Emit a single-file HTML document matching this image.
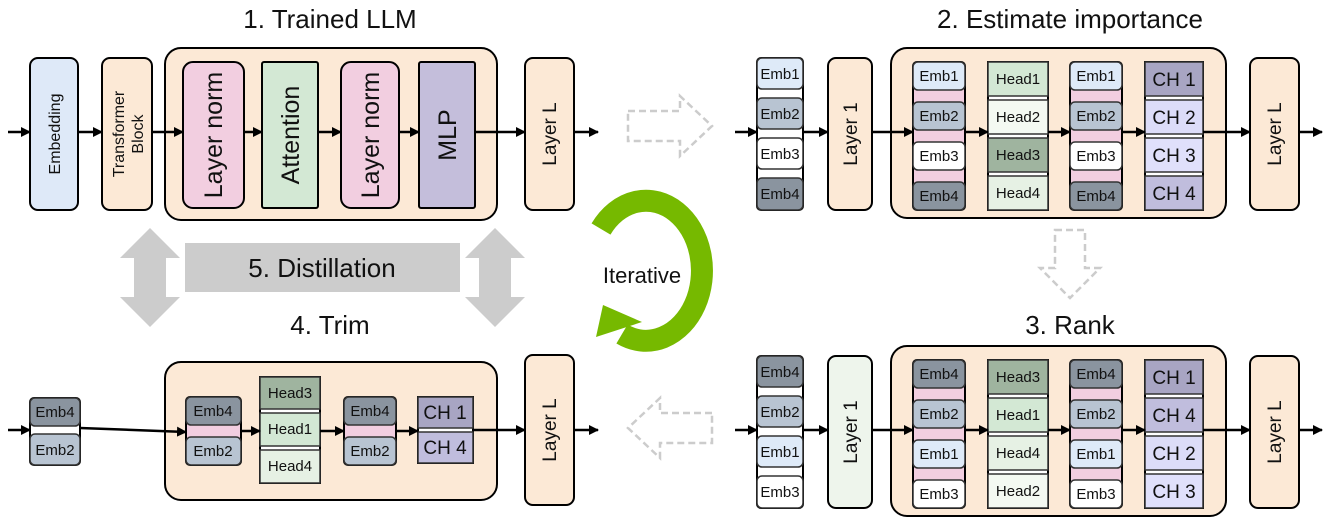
<!DOCTYPE html>
<html><head><meta charset="utf-8"><style>
body{margin:0;background:#fff}
svg{display:block}
text{font-family:"Liberation Sans",sans-serif;fill:#111}
.t{font-size:26px;text-anchor:middle}
.e{font-size:15px;text-anchor:middle}
.h{font-size:15px;text-anchor:middle}
.c{font-size:19px;text-anchor:middle}
</style></head><body>
<svg width="1329" height="529" viewBox="0 0 1329 529" xmlns="http://www.w3.org/2000/svg">
<defs><marker id="a" markerWidth="10" markerHeight="10" refX="9" refY="5" orient="auto" markerUnits="userSpaceOnUse"><path d="M0,0L10,5L0,10z" fill="#000"/></marker></defs>

<text class="t" x="330" y="28">1. Trained LLM</text>
<text class="t" x="1070" y="28">2. Estimate importance</text>
<text class="t" x="1070" y="334">3. Rank</text>
<text class="t" x="330" y="334">4. Trim</text>

<!-- Panel 1 -->
<g stroke="#000" stroke-width="2">
<rect x="30" y="58" width="48" height="152" rx="8" fill="#dee9f8"/>
<rect x="102" y="58" width="50" height="152" rx="8" fill="#fce9d6"/>
<rect x="165" y="48" width="332" height="172" rx="16" fill="#fce9d6"/>
<rect x="183" y="62" width="61" height="146" rx="10" fill="#f2cee0"/>
<rect x="262" y="62" width="56" height="146" rx="2" fill="#d3e8d4"/>
<rect x="341" y="62" width="58" height="146" rx="10" fill="#f2cee0"/>
<rect x="419" y="62" width="56" height="146" rx="2" fill="#c4bedb"/>
<rect x="525" y="58" width="49" height="152" rx="8" fill="#fce9d6"/>
</g>
<g stroke="#000" stroke-width="2.5" marker-end="url(#a)">
<line x1="8" y1="132" x2="30" y2="132"/><line x1="78" y1="132" x2="102" y2="132"/><line x1="152" y1="132" x2="183" y2="132"/><line x1="244" y1="132" x2="262" y2="132"/><line x1="318" y1="132" x2="341" y2="132"/><line x1="399" y1="132" x2="419" y2="132"/><line x1="475" y1="132" x2="525" y2="132"/><line x1="574" y1="132" x2="598" y2="132"/>
</g>
<text transform="translate(60,134) rotate(-90)" style="font-size:16px;text-anchor:middle">Embedding</text>
<text transform="translate(124,134) rotate(-90)" style="font-size:16px;text-anchor:middle">Transformer</text>
<text transform="translate(143,134) rotate(-90)" style="font-size:16px;text-anchor:middle">Block</text>
<text transform="translate(222,135) rotate(-90)" style="font-size:25px;text-anchor:middle">Layer norm</text>
<text transform="translate(299,135) rotate(-90)" style="font-size:25px;text-anchor:middle">Attention</text>
<text transform="translate(379,135) rotate(-90)" style="font-size:25px;text-anchor:middle">Layer norm</text>
<text transform="translate(456,135) rotate(-90)" style="font-size:25px;text-anchor:middle">MLP</text>
<text transform="translate(556,134) rotate(-90)" style="font-size:19px;text-anchor:middle">Layer L</text>

<!-- Panel 2 -->
<g>
<g stroke="#000" stroke-width="2">
<rect x="891" y="48" width="335" height="170" rx="16" fill="#fce9d6"/>
<rect x="828" y="58" width="44" height="152" rx="8" fill="#fce9d6"/>
<rect x="1250" y="58" width="49" height="152" rx="8" fill="#fce9d6"/>
<rect x="757" y="58" width="46" height="152" rx="4" fill="#fff"/>
<rect x="913" y="62" width="52" height="148" rx="4" fill="#f2cee0"/>
<rect x="1070" y="62" width="52" height="148" rx="4" fill="#f2cee0"/>
<rect x="988" y="62" width="60" height="148" fill="#fff"/>
<rect x="1145" y="62" width="58" height="148" fill="#fff"/>
</g>
<g stroke="#333" stroke-width="1.5">
<rect x="757" y="58" width="46" height="31" rx="5" fill="#deeaf8"/>
<rect x="757" y="98" width="46" height="31" rx="5" fill="#b8c4d2"/>
<rect x="757" y="138" width="46" height="31" rx="5" fill="#fff"/>
<rect x="757" y="178" width="46" height="32" rx="5" fill="#8a949f"/>
<rect x="913" y="62" width="52" height="28" rx="5" fill="#deeaf8"/>
<rect x="913" y="102" width="52" height="28" rx="5" fill="#b8c4d2"/>
<rect x="913" y="142" width="52" height="28" rx="5" fill="#fff"/>
<rect x="913" y="182" width="52" height="28" rx="5" fill="#8a949f"/>
<rect x="1070" y="62" width="52" height="28" rx="5" fill="#deeaf8"/>
<rect x="1070" y="102" width="52" height="28" rx="5" fill="#b8c4d2"/>
<rect x="1070" y="142" width="52" height="28" rx="5" fill="#fff"/>
<rect x="1070" y="182" width="52" height="28" rx="5" fill="#8a949f"/>
<rect x="988" y="62" width="60" height="34" fill="#d3e8d4"/>
<rect x="988" y="100" width="60" height="34" fill="#f4f9f2"/>
<rect x="988" y="138" width="60" height="34" fill="#9fb49f"/>
<rect x="988" y="176" width="60" height="34" fill="#e6f1e4"/>
<rect x="1145" y="62" width="58" height="34" fill="#a8a5c3"/>
<rect x="1145" y="100" width="58" height="34" fill="#dcdcf8"/>
<rect x="1145" y="138" width="58" height="34" fill="#e0e0fb"/>
<rect x="1145" y="176" width="58" height="34" fill="#c0bddd"/>
</g>
<g stroke="#000" stroke-width="2.5" marker-end="url(#a)">
<line x1="735" y1="132" x2="757" y2="132"/><line x1="803" y1="132" x2="828" y2="132"/><line x1="872" y1="132" x2="913" y2="132"/><line x1="965" y1="132" x2="988" y2="132"/><line x1="1048" y1="132" x2="1070" y2="132"/><line x1="1122" y1="132" x2="1145" y2="132"/><line x1="1203" y1="132" x2="1250" y2="132"/><line x1="1299" y1="132" x2="1322" y2="132"/>
</g>
<text class="e" x="780" y="79">Emb1</text><text class="e" x="780" y="119">Emb2</text><text class="e" x="780" y="159">Emb3</text><text class="e" x="780" y="199">Emb4</text>
<text class="e" x="939" y="81">Emb1</text><text class="e" x="939" y="121">Emb2</text><text class="e" x="939" y="161">Emb3</text><text class="e" x="939" y="201">Emb4</text>
<text class="e" x="1096" y="81">Emb1</text><text class="e" x="1096" y="121">Emb2</text><text class="e" x="1096" y="161">Emb3</text><text class="e" x="1096" y="201">Emb4</text>
<text class="h" x="1018" y="84">Head1</text><text class="h" x="1018" y="122">Head2</text><text class="h" x="1018" y="160">Head3</text><text class="h" x="1018" y="198">Head4</text>
<text class="c" x="1174" y="86">CH 1</text><text class="c" x="1174" y="124">CH 2</text><text class="c" x="1174" y="162">CH 3</text><text class="c" x="1174" y="200">CH 4</text>
<text transform="translate(857,134) rotate(-90)" style="font-size:19px;text-anchor:middle">Layer 1</text>
<text transform="translate(1281,134) rotate(-90)" style="font-size:19px;text-anchor:middle">Layer L</text>
</g>

<!-- Panel 3 -->
<g transform="translate(0,298)">
<g stroke="#000" stroke-width="2">
<rect x="891" y="48" width="335" height="170" rx="16" fill="#fce9d6"/>
<rect x="828" y="58" width="44" height="152" rx="8" fill="#eef5ec"/>
<rect x="1250" y="58" width="49" height="152" rx="8" fill="#fce9d6"/>
<rect x="757" y="58" width="46" height="152" rx="4" fill="#fff"/>
<rect x="913" y="62" width="52" height="148" rx="4" fill="#f2cee0"/>
<rect x="1070" y="62" width="52" height="148" rx="4" fill="#f2cee0"/>
<rect x="988" y="62" width="60" height="148" fill="#fff"/>
<rect x="1145" y="62" width="58" height="148" fill="#fff"/>
</g>
<g stroke="#333" stroke-width="1.5">
<rect x="757" y="58" width="46" height="31" rx="5" fill="#8a949f"/>
<rect x="757" y="98" width="46" height="31" rx="5" fill="#b8c4d2"/>
<rect x="757" y="138" width="46" height="31" rx="5" fill="#deeaf8"/>
<rect x="757" y="178" width="46" height="32" rx="5" fill="#fff"/>
<rect x="913" y="62" width="52" height="28" rx="5" fill="#8a949f"/>
<rect x="913" y="102" width="52" height="28" rx="5" fill="#b8c4d2"/>
<rect x="913" y="142" width="52" height="28" rx="5" fill="#deeaf8"/>
<rect x="913" y="182" width="52" height="28" rx="5" fill="#fff"/>
<rect x="1070" y="62" width="52" height="28" rx="5" fill="#8a949f"/>
<rect x="1070" y="102" width="52" height="28" rx="5" fill="#b8c4d2"/>
<rect x="1070" y="142" width="52" height="28" rx="5" fill="#deeaf8"/>
<rect x="1070" y="182" width="52" height="28" rx="5" fill="#fff"/>
<rect x="988" y="62" width="60" height="34" fill="#9fb49f"/>
<rect x="988" y="100" width="60" height="34" fill="#d3e8d4"/>
<rect x="988" y="138" width="60" height="34" fill="#e6f1e4"/>
<rect x="988" y="176" width="60" height="34" fill="#f4f9f2"/>
<rect x="1145" y="62" width="58" height="34" fill="#a8a5c3"/>
<rect x="1145" y="100" width="58" height="34" fill="#c0bddd"/>
<rect x="1145" y="138" width="58" height="34" fill="#dcdcf8"/>
<rect x="1145" y="176" width="58" height="34" fill="#e0e0fb"/>
</g>
<g stroke="#000" stroke-width="2.5" marker-end="url(#a)">
<line x1="735" y1="132" x2="757" y2="132"/><line x1="803" y1="132" x2="828" y2="132"/><line x1="872" y1="132" x2="913" y2="132"/><line x1="965" y1="132" x2="988" y2="132"/><line x1="1048" y1="132" x2="1070" y2="132"/><line x1="1122" y1="132" x2="1145" y2="132"/><line x1="1203" y1="132" x2="1250" y2="132"/><line x1="1299" y1="132" x2="1322" y2="132"/>
</g>
<text class="e" x="780" y="79">Emb4</text><text class="e" x="780" y="119">Emb2</text><text class="e" x="780" y="159">Emb1</text><text class="e" x="780" y="199">Emb3</text>
<text class="e" x="939" y="81">Emb4</text><text class="e" x="939" y="121">Emb2</text><text class="e" x="939" y="161">Emb1</text><text class="e" x="939" y="201">Emb3</text>
<text class="e" x="1096" y="81">Emb4</text><text class="e" x="1096" y="121">Emb2</text><text class="e" x="1096" y="161">Emb1</text><text class="e" x="1096" y="201">Emb3</text>
<text class="h" x="1018" y="84">Head3</text><text class="h" x="1018" y="122">Head1</text><text class="h" x="1018" y="160">Head4</text><text class="h" x="1018" y="198">Head2</text>
<text class="c" x="1174" y="86">CH 1</text><text class="c" x="1174" y="124">CH 4</text><text class="c" x="1174" y="162">CH 2</text><text class="c" x="1174" y="200">CH 3</text>
<text transform="translate(857,134) rotate(-90)" style="font-size:19px;text-anchor:middle">Layer 1</text>
<text transform="translate(1281,134) rotate(-90)" style="font-size:19px;text-anchor:middle">Layer L</text>
</g>

<!-- Panel 4 -->
<g stroke="#000" stroke-width="2">
<rect x="165" y="362" width="332" height="138" rx="16" fill="#fce9d6"/>
<rect x="525" y="355" width="49" height="150" rx="8" fill="#fce9d6"/>
<rect x="30" y="398" width="50" height="67" rx="4" fill="#fff"/>
<rect x="186" y="397" width="55" height="68" rx="4" fill="#f2cee0"/>
<rect x="344" y="397" width="52" height="68" rx="4" fill="#f2cee0"/>
<rect x="260" y="377" width="60" height="106" fill="#fff"/>
<rect x="418" y="397" width="55" height="66" fill="#fff"/>
</g>
<g stroke="#333" stroke-width="1.5">
<rect x="30" y="398" width="50" height="28" rx="5" fill="#8a949f"/>
<rect x="30" y="434" width="50" height="31" rx="5" fill="#b8c4d2"/>
<rect x="186" y="397" width="55" height="28" rx="5" fill="#8a949f"/>
<rect x="186" y="437" width="55" height="28" rx="5" fill="#b8c4d2"/>
<rect x="344" y="397" width="52" height="28" rx="5" fill="#8a949f"/>
<rect x="344" y="437" width="52" height="28" rx="5" fill="#b8c4d2"/>
<rect x="260" y="377" width="60" height="32" fill="#9fb49f"/>
<rect x="260" y="413" width="60" height="33" fill="#d3e8d4"/>
<rect x="260" y="450" width="60" height="33" fill="#e6f1e4"/>
<rect x="418" y="397" width="55" height="31" fill="#a8a5c3"/>
<rect x="418" y="432" width="55" height="31" fill="#c0bddd"/>
</g>
<g stroke="#000" stroke-width="2.5" marker-end="url(#a)">
<line x1="8" y1="430" x2="30" y2="430"/><line x1="80" y1="428" x2="186" y2="432"/><line x1="241" y1="431" x2="260" y2="431"/><line x1="320" y1="431" x2="344" y2="431"/><line x1="396" y1="431" x2="418" y2="431"/><line x1="473" y1="430" x2="525" y2="430"/><line x1="574" y1="430" x2="598" y2="430"/>
</g>
<text class="e" x="55" y="417">Emb4</text><text class="e" x="55" y="455">Emb2</text>
<text class="e" x="213" y="416">Emb4</text><text class="e" x="213" y="456">Emb2</text>
<text class="e" x="370" y="416">Emb4</text><text class="e" x="370" y="456">Emb2</text>
<text class="h" x="290" y="398">Head3</text><text class="h" x="290" y="434">Head1</text><text class="h" x="290" y="471">Head4</text>
<text class="c" x="445" y="419">CH 1</text><text class="c" x="445" y="454">CH 4</text>
<text transform="translate(556,430) rotate(-90)" style="font-size:19px;text-anchor:middle">Layer L</text>

<!-- Distillation -->
<rect x="185" y="243" width="275" height="49" fill="#cccccc"/>
<text class="t" x="322" y="277">5. Distillation</text>
<polygon points="150,228 180,258 166,258 166,297 180,297 150,327 120,297 134,297 134,258 120,258" fill="#cccccc"/>
<polygon points="495,228 525,258 511,258 511,297 525,297 495,327 465,297 479,297 479,258 465,258" fill="#cccccc"/>

<!-- Iterative -->
<path d="M601,229 A56,70 0 1 1 622,334" fill="none" stroke="#76b900" stroke-width="22"/>
<polygon points="596,337 603,305 642,322" fill="#76b900"/>
<text x="642" y="283" style="font-size:22px;text-anchor:middle">Iterative</text>

<!-- dashed hollow arrows -->
<g fill="#fff" stroke="#cccccc" stroke-width="2.5" stroke-dasharray="7,4">
<polygon points="628,111 680,111 680,96 712,126 680,156 680,141 628,141"/>
<polygon points="1055,230 1085,230 1085,268 1100,268 1070,298 1040,268 1055,268"/>
<polygon points="712,413 660,413 660,398 628,428 660,458 660,443 712,443"/>
</g>
</svg>
</body></html>
